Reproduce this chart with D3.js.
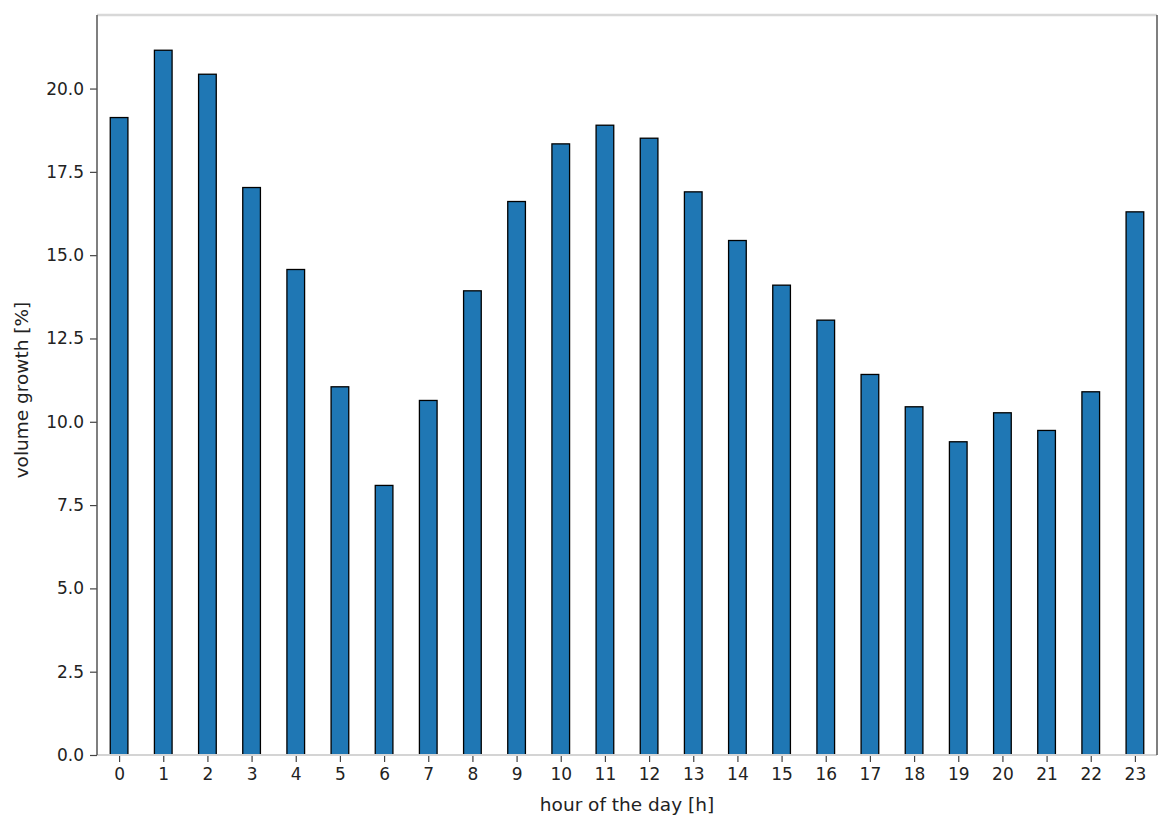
<!DOCTYPE html>
<html>
<head>
<meta charset="utf-8">
<script src="https://cdn.jsdelivr.net/npm/d3@7"></script>
<style>
  html, body { margin: 0; padding: 0; background: #fff; }
  svg text { font-family: "DejaVu Sans", sans-serif; fill: #222; }
</style>
</head>
<body>
<div id="chart"></div>
<script>
// hours of the day and growth values
const hours = d3.range(0, 24);
const growth = [19.13, 21.15, 20.43, 17.03, 14.57, 11.05, 8.09, 10.64, 13.93, 16.61,
                18.34, 18.90, 18.51, 16.90, 15.44, 14.10, 13.05, 11.42, 10.45, 9.40,
                10.27, 9.74, 10.90, 16.30];
const yTicks = [0, 2.5, 5, 7.5, 10, 12.5, 15, 17.5, 20];

const width = 1170, height = 825;
const margin = { top: 15, right: 13, bottom: 70, left: 97 };
const innerW = width - margin.left - margin.right;
const innerH = height - margin.top - margin.bottom;

const svg = d3.select('#chart')
    .append('svg')
    .attr('width', width)
    .attr('height', height);

const g = svg.append('g')
    .attr('transform', `translate(${margin.left},${margin.top})`);

// pandas-style bar layout: xlim from -0.5 to n-0.5
const x = d3.scaleLinear()
    .domain([-0.5, hours.length - 0.5])
    .range([0, innerW]);

const y = d3.scaleLinear()
    .domain([0, d3.max(growth) * 1.05])
    .range([innerH, 0]);

const barW = 0.4;

// bars
g.selectAll('.bar')
    .data(growth)
    .enter()
    .append('rect')
    .attr('class', 'bar')
    .attr('x', (d, i) => x(hours[i] - barW / 2))
    .attr('width', x(barW) - x(0))
    .attr('y', d => y(d))
    .attr('height', d => y(0) - y(d))
    .attr('fill', '#1f77b4')
    .attr('stroke', '#000')
    .attr('stroke-width', 1.3);

// y axis
const yAxis = g.append('g')
    .call(d3.axisLeft(y).tickValues(yTicks).tickFormat(d3.format('.1f')).tickSize(7).tickPadding(6));
yAxis.select('.domain').remove();
yAxis.selectAll('.tick line').attr('stroke', '#444').attr('stroke-width', 1.2);
yAxis.selectAll('.tick text').style('font-size', '17px').attr('fill', '#222');

// x axis
const xAxis = g.append('g')
    .attr('transform', `translate(0,${innerH})`)
    .call(d3.axisBottom(x).tickValues(hours).tickFormat(d3.format('d')).tickSize(7).tickPadding(6));
xAxis.select('.domain').remove();
xAxis.selectAll('.tick line').attr('stroke', '#444').attr('stroke-width', 1.2);
xAxis.selectAll('.tick text').style('font-size', '17px').attr('fill', '#222');

// frame: top/bottom light, left/right dark as in the reference
g.append('line').attr('x1', 0).attr('x2', innerW).attr('y1', 0).attr('y2', 0)
    .attr('stroke', '#d8d8d8').attr('stroke-width', 2.5);
g.append('line').attr('x1', 0).attr('x2', innerW).attr('y1', innerH).attr('y2', innerH)
    .attr('stroke', '#d4d4d4').attr('stroke-width', 2.2);
g.append('line').attr('x1', 0).attr('x2', 0).attr('y1', 0).attr('y2', innerH)
    .attr('stroke', '#555').attr('stroke-width', 1.5);
g.append('line').attr('x1', innerW).attr('x2', innerW).attr('y1', 0).attr('y2', innerH)
    .attr('stroke', '#555').attr('stroke-width', 1.5);

// axis labels
svg.append('text')
    .attr('x', margin.left + innerW / 2)
    .attr('y', 811)
    .attr('text-anchor', 'middle')
    .style('font-size', '18.5px')
    .text('hour of the day [h]');

svg.append('text')
    .attr('transform', `translate(28,${margin.top + innerH / 2 + 5}) rotate(-90)`)
    .attr('text-anchor', 'middle')
    .style('font-size', '18.5px')
    .text('volume growth [%]');
</script>
</body>
</html>
